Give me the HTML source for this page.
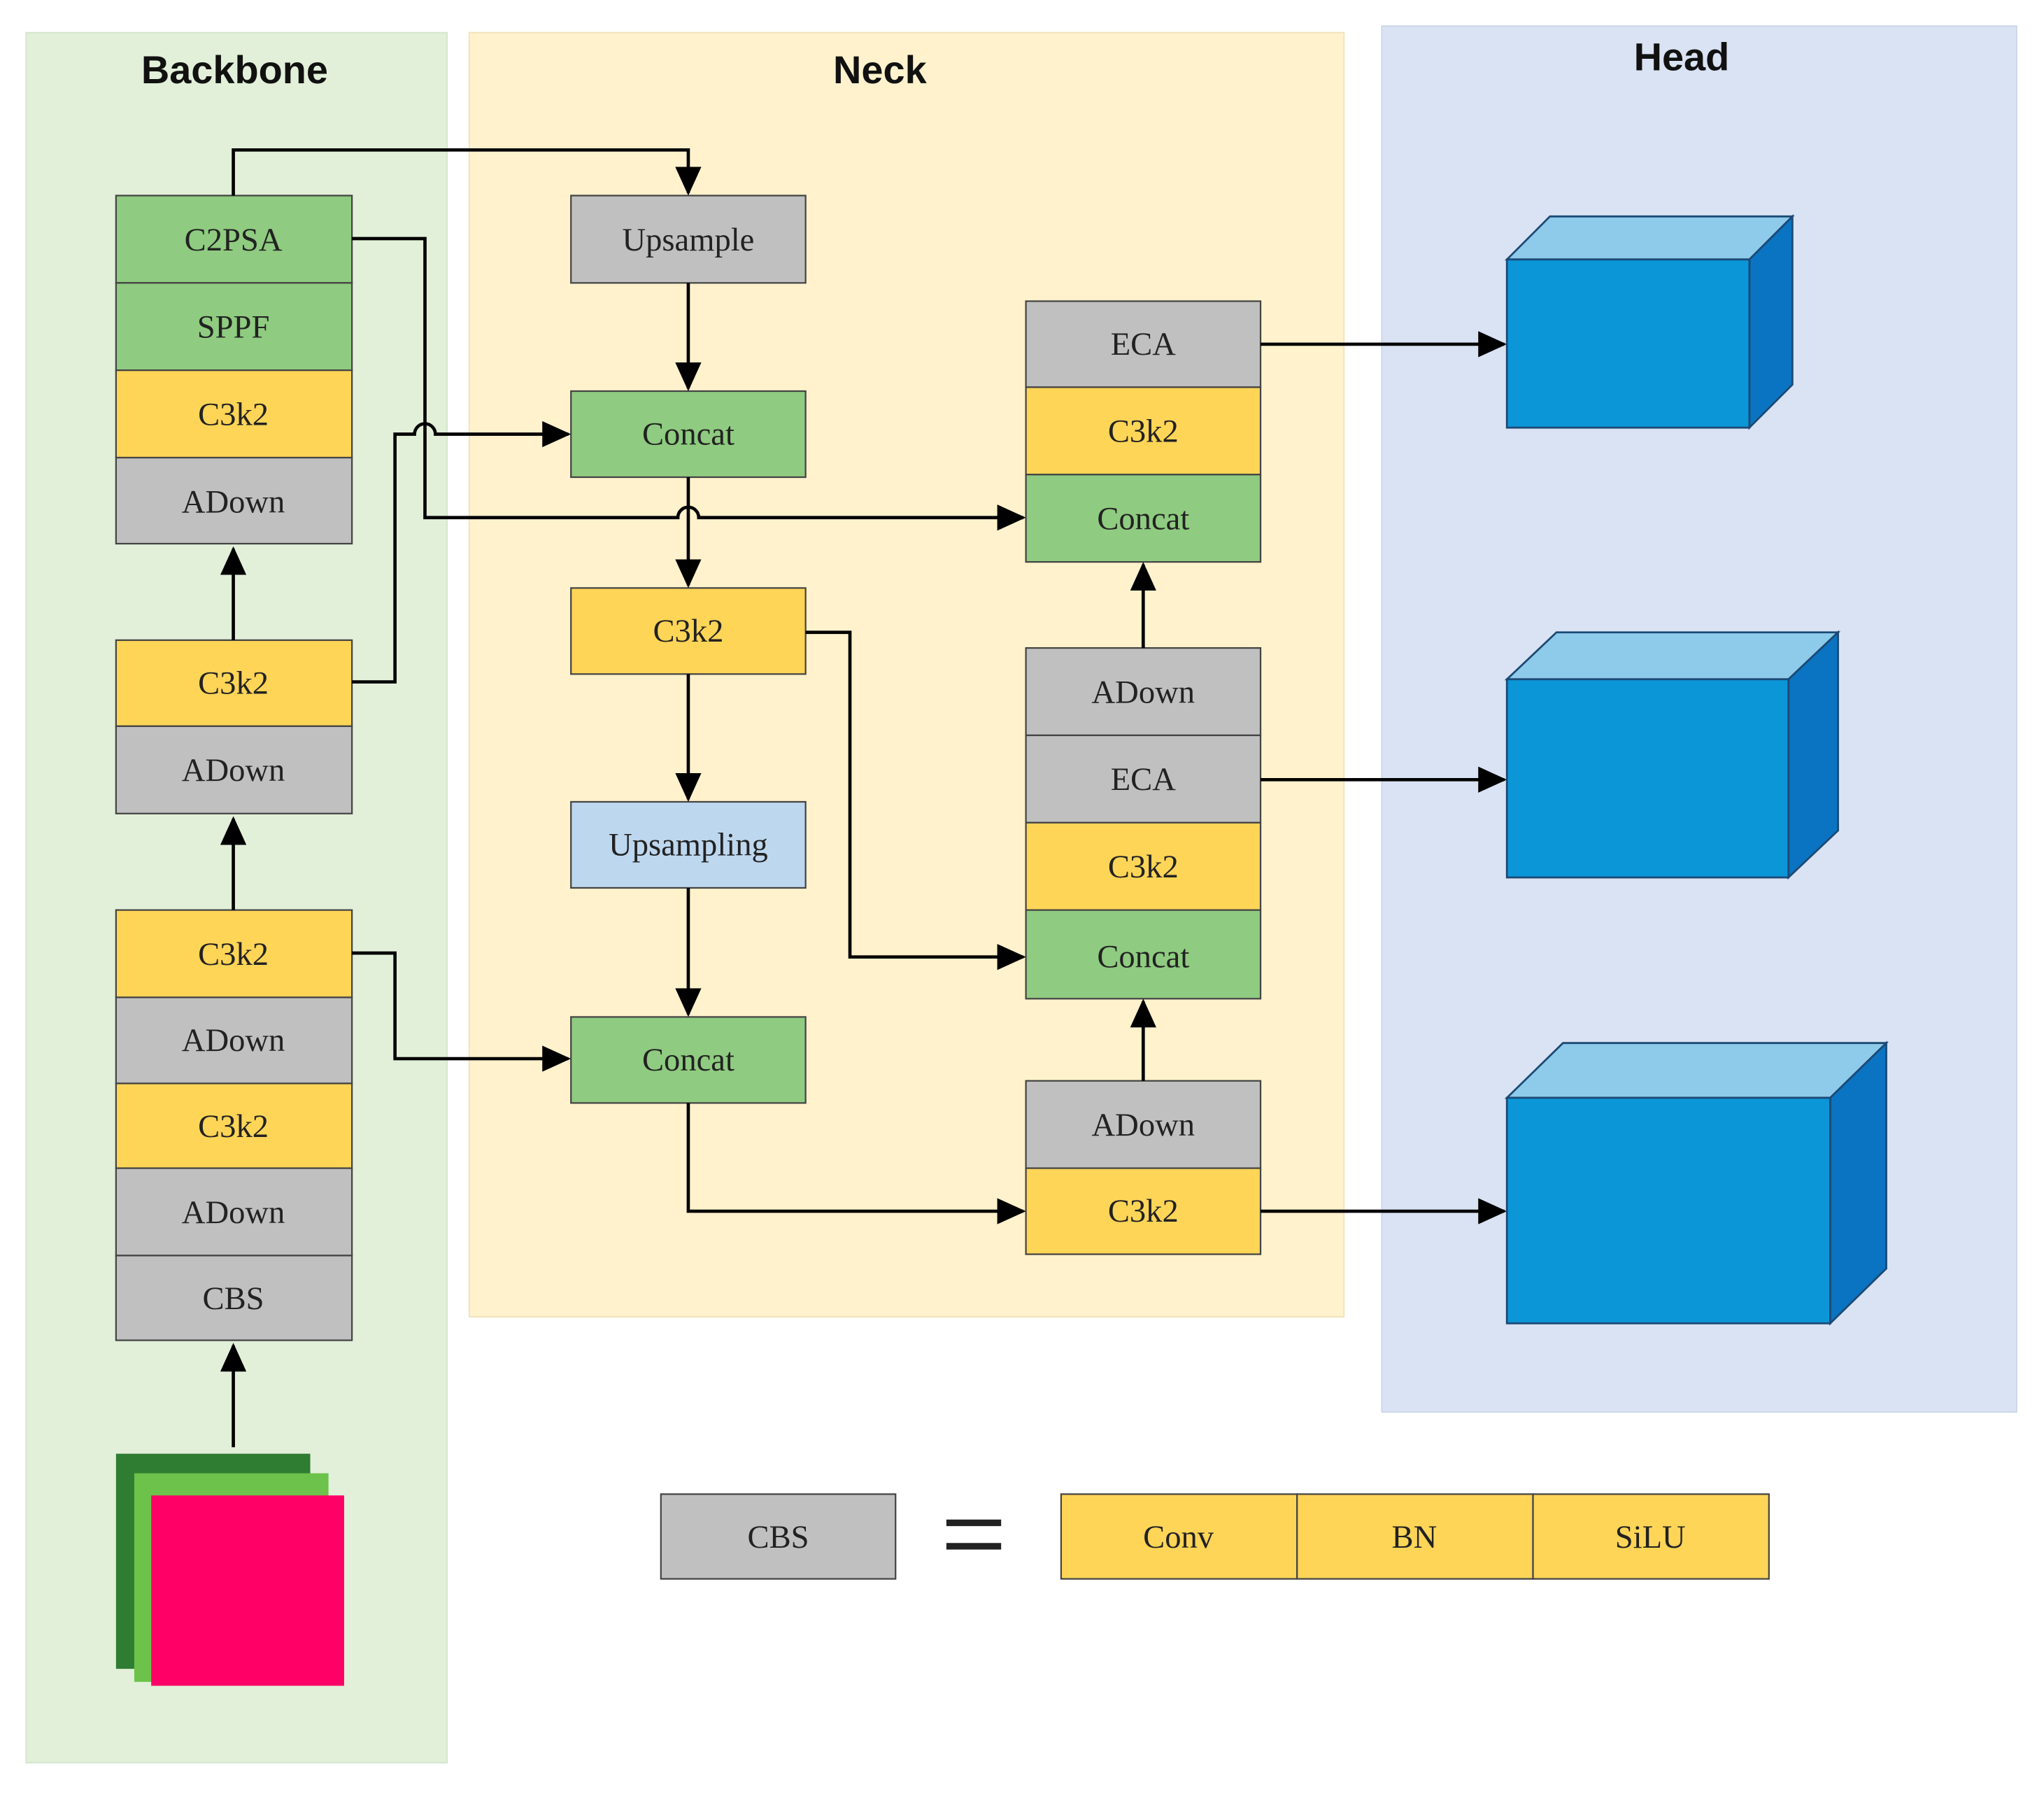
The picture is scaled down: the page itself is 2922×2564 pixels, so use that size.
<!DOCTYPE html>
<html><head><meta charset="utf-8"><style>html,body{margin:0;padding:0;background:#fff}svg{display:block}</style></head>
<body>
<svg width="2922" height="2564" viewBox="0 0 1568 1376" preserveAspectRatio="none" xmlns="http://www.w3.org/2000/svg">
<defs>
<marker id="a" markerWidth="10" markerHeight="10" refX="9" refY="5" orient="auto" markerUnits="userSpaceOnUse" viewBox="0 0 10 10"><path d="M0,0 L10,5 L0,10 z" fill="#000"/></marker>
<marker id="b" markerWidth="22" markerHeight="20" refX="20" refY="10" orient="auto" markerUnits="userSpaceOnUse" viewBox="0 0 22 20"><path d="M0,0 L22,10 L0,20 z" fill="#000"/></marker>
</defs>
<rect width="1568" height="1376" fill="#fff"/>
<rect x="20" y="25" width="323" height="1327" fill="#e2f0d9" stroke="#d3e6cc"/>
<rect x="360" y="25" width="671" height="985" fill="#fff2cc" stroke="#f0e3bb"/>
<rect x="1060" y="20" width="487" height="1063" fill="#dae3f3" stroke="#cbd5e8"/>
<g font-family="'Liberation Sans',sans-serif" font-weight="bold" font-size="30" text-anchor="middle" fill="#111">
<text x="180" y="64">Backbone</text><text x="675" y="64">Neck</text><text x="1290" y="54">Head</text></g>
<g font-family="'Liberation Serif',serif" font-size="25" text-anchor="middle" fill="#222" stroke="#444" stroke-width="1.2">
<!-- backbone -->
<rect x="89" y="150" width="181" height="67" fill="#8fcb80"/>
<rect x="89" y="217" width="181" height="67" fill="#8fcb80"/>
<rect x="89" y="284" width="181" height="67" fill="#ffd557"/>
<rect x="89" y="351" width="181" height="66" fill="#c0c0c0"/>
<rect x="89" y="491" width="181" height="66" fill="#ffd557"/>
<rect x="89" y="557" width="181" height="67" fill="#c0c0c0"/>
<rect x="89" y="698" width="181" height="67" fill="#ffd557"/>
<rect x="89" y="765" width="181" height="66" fill="#c0c0c0"/>
<rect x="89" y="831" width="181" height="65" fill="#ffd557"/>
<rect x="89" y="896" width="181" height="67" fill="#c0c0c0"/>
<rect x="89" y="963" width="181" height="65" fill="#c0c0c0"/>
<!-- neck col1 -->
<rect x="438" y="150" width="180" height="67" fill="#c0c0c0"/>
<rect x="438" y="300" width="180" height="66" fill="#8fcb80"/>
<rect x="438" y="451" width="180" height="66" fill="#ffd557"/>
<rect x="438" y="615" width="180" height="66" fill="#bdd7ee"/>
<rect x="438" y="780" width="180" height="66" fill="#8fcb80"/>
<!-- neck col2 -->
<rect x="787" y="231" width="180" height="66" fill="#c0c0c0"/>
<rect x="787" y="297" width="180" height="67" fill="#ffd557"/>
<rect x="787" y="364" width="180" height="67" fill="#8fcb80"/>
<rect x="787" y="497" width="180" height="67" fill="#c0c0c0"/>
<rect x="787" y="564" width="180" height="67" fill="#c0c0c0"/>
<rect x="787" y="631" width="180" height="67" fill="#ffd557"/>
<rect x="787" y="698" width="180" height="68" fill="#8fcb80"/>
<rect x="787" y="829" width="180" height="67" fill="#c0c0c0"/>
<rect x="787" y="896" width="180" height="66" fill="#ffd557"/>
<!-- legend -->
<rect x="507" y="1146" width="180" height="65" fill="#c0c0c0"/>
<rect x="814" y="1146" width="181" height="65" fill="#ffd557"/>
<rect x="995" y="1146" width="181" height="65" fill="#ffd557"/>
<rect x="1176" y="1146" width="181" height="65" fill="#ffd557"/>
</g>
<g font-family="'Liberation Serif',serif" font-size="25" text-anchor="middle" fill="#222">
<text x="179" y="192">C2PSA</text><text x="179" y="259">SPPF</text><text x="179" y="326">C3k2</text><text x="179" y="393">ADown</text>
<text x="179" y="532">C3k2</text><text x="179" y="599">ADown</text>
<text x="179" y="740">C3k2</text><text x="179" y="806">ADown</text><text x="179" y="872">C3k2</text><text x="179" y="938">ADown</text><text x="179" y="1004">CBS</text>
<text x="528" y="192">Upsample</text><text x="528" y="341">Concat</text><text x="528" y="492">C3k2</text><text x="528" y="656">Upsampling</text><text x="528" y="821">Concat</text>
<text x="877" y="272">ECA</text><text x="877" y="339">C3k2</text><text x="877" y="406">Concat</text>
<text x="877" y="539">ADown</text><text x="877" y="606">ECA</text><text x="877" y="673">C3k2</text><text x="877" y="742">Concat</text>
<text x="877" y="871">ADown</text><text x="877" y="937">C3k2</text>
<text x="597" y="1187">CBS</text><text x="904" y="1187">Conv</text><text x="1085" y="1187">BN</text><text x="1266" y="1187">SiLU</text>
</g>
<g stroke="#222" stroke-width="5"><line x1="726" y1="1168" x2="768" y2="1168"/><line x1="726" y1="1186" x2="768" y2="1186"/></g>
<!-- input stack -->
<rect x="89" y="1115" width="149" height="165" fill="#2e7d32"/>
<rect x="103" y="1130" width="149" height="160" fill="#6cc24a"/>
<rect x="116" y="1147" width="148" height="146" fill="#ff0066"/>
<!-- connectors -->
<g fill="none" stroke="#000" stroke-width="2.5">
<path d="M179,1110 V1032" marker-end="url(#b)"/>
<path d="M179,698 V628" marker-end="url(#b)"/>
<path d="M179,491 V421" marker-end="url(#b)"/>
<path d="M179,150 V115 H528 V148" marker-end="url(#b)"/>
<path d="M270,183 H326 V397 H520 a8,8 0 0 1 16,0 H785" marker-end="url(#b)"/>
<path d="M270,523 H303 V333 H318 a8,8 0 0 1 16,0 H436" marker-end="url(#b)"/>
<path d="M528,217 V298" marker-end="url(#b)"/>
<path d="M528,366 V449" marker-end="url(#b)"/>
<path d="M528,517 V613" marker-end="url(#b)"/>
<path d="M528,681 V778" marker-end="url(#b)"/>
<path d="M270,731 H303 V812 H436" marker-end="url(#b)"/>
<path d="M618,485 H652 V734 H785" marker-end="url(#b)"/>
<path d="M528,846 V929 H785" marker-end="url(#b)"/>
<path d="M877,829 V768" marker-end="url(#b)"/>
<path d="M877,497 V433" marker-end="url(#b)"/>
<path d="M967,264 H1154" marker-end="url(#b)"/>
<path d="M967,598 H1154" marker-end="url(#b)"/>
<path d="M967,929 H1154" marker-end="url(#b)"/>
</g>
<!-- cubes -->
<g stroke="#1c4a75" stroke-width="1.5">
<polygon points="1156,199 1189,166 1375,166 1342,199" fill="#8ecbea"/>
<polygon points="1342,199 1375,166 1375,295 1342,328" fill="#0a74c2"/>
<rect x="1156" y="199" width="186" height="129" fill="#0b96d8"/>
<polygon points="1156,521 1194,485 1410,485 1372,521" fill="#8ecbea"/>
<polygon points="1372,521 1410,485 1410,637 1372,673" fill="#0a74c2"/>
<rect x="1156" y="521" width="216" height="152" fill="#0b96d8"/>
<polygon points="1156,842 1199,800 1447,800 1404,842" fill="#8ecbea"/>
<polygon points="1404,842 1447,800 1447,973 1404,1015" fill="#0a74c2"/>
<rect x="1156" y="842" width="248" height="173" fill="#0b96d8"/>
</g>
</svg>
</body></html>
